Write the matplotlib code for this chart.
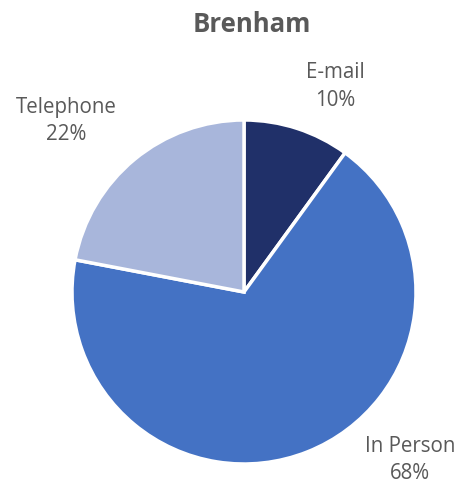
import matplotlib.pyplot as plt

# contact method share for Brenham
methods = ["E-mail", "In Person", "Telephone"]
shares = [10, 68, 22]
colors = ["#203069", "#4472C4", "#A8B6DB"]
# label anchor points (in pie radius units)
label_xy = [(0.53, 1.195), (0.965, -0.975), (-1.035, 0.995)]

plt.rcParams['font.family'] = ['Open Sans', 'DejaVu Sans']

fig = plt.figure(figsize=(4.63, 4.91), dpi=100)
ax = fig.add_axes([72 / 463, 27 / 491, 344 / 463, 344 / 491])

ax.pie(shares, colors=colors, startangle=90, counterclock=False,
       radius=1, wedgeprops=dict(edgecolor="white", linewidth=2.5))
ax.set_xlim(-1, 1)
ax.set_ylim(-1, 1)
ax.set_aspect("equal")

for name, val, (x, y) in zip(methods, shares, label_xy):
    ax.text(x, y, f"{name}\n{val}%", ha="center", va="center",
            fontsize=14.8, color="#595959", linespacing=1.4, clip_on=False)

fig.text(252 / 463, 1 - 25 / 491, "Brenham", ha="center", va="center",
         fontsize=18.5, fontweight="bold", color="#595959")

fig.savefig("out.png", dpi=100, facecolor="white")
